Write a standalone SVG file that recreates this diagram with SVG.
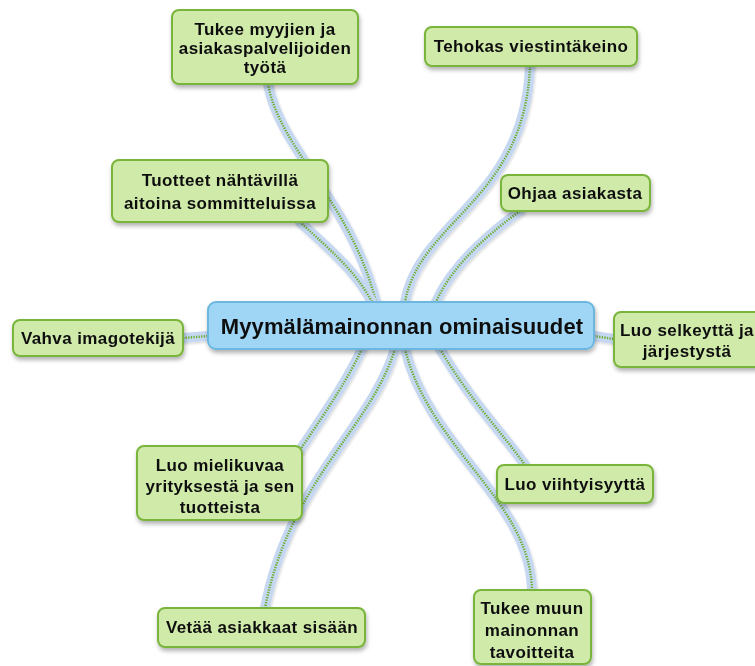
<svg xmlns="http://www.w3.org/2000/svg" width="755" height="666" viewBox="0 0 755 666">
<defs>
<filter id="sh" x="-20%" y="-20%" width="140%" height="150%">
<feDropShadow dx="1" dy="3" stdDeviation="2" flood-color="#000" flood-opacity="0.3"/>
</filter>
<filter id="lsh" x="-20%" y="-20%" width="140%" height="140%">
<feDropShadow dx="1" dy="1.5" stdDeviation="1.2" flood-color="#000" flood-opacity="0.15"/>
</filter>
</defs>
<style>
.bg{fill:#ffffff}
.halo{fill:none;stroke:#c6d8f1;stroke-width:10;stroke-linecap:round}
.dot{fill:none;stroke:#6aad30;stroke-width:2.4;stroke-dasharray:1.3 1.3}
.node rect{fill:#cfeaa9;stroke:#79b53a;stroke-width:2}
.node text{font-family:"Liberation Sans",Arial,sans-serif;font-weight:bold;font-size:17px;letter-spacing:0.4px;fill:#111;text-anchor:middle}
.center rect{fill:#9fd6f6;stroke:#6cb7e0;stroke-width:2}
.center text{font-family:"Liberation Sans",Arial,sans-serif;font-weight:bold;font-size:22px;letter-spacing:0.1px;fill:#111;text-anchor:middle}
</style>
<rect class="bg" x="0" y="0" width="755" height="666"/>
<g id="connectors" filter="url(#lsh)">
<g id="c1"><path class="halo" d="M268 84 C280 150 350 200 376 302"/><path class="dot" d="M268 84 C280 150 350 200 376 302"/></g>
<g id="c2"><path class="halo" d="M300 222 C330 250 355 270 372 302"/><path class="dot" d="M300 222 C330 250 355 270 372 302"/></g>
<g id="c3"><path class="halo" d="M530 66 C525 200 420 220 405 302"/><path class="dot" d="M530 66 C525 200 420 220 405 302"/></g>
<g id="c4"><path class="halo" d="M520 211 C480 240 450 270 436 302"/><path class="dot" d="M520 211 C480 240 450 270 436 302"/></g>
<g id="c5"><path class="halo" d="M183 338 L208 336"/><path class="dot" d="M183 338 L208 336"/></g>
<g id="c6"><path class="halo" d="M594 336 L614 339"/><path class="dot" d="M594 336 L614 339"/></g>
<g id="c7"><path class="halo" d="M362 349 C345 385 320 420 300 450"/><path class="dot" d="M362 349 C345 385 320 420 300 450"/></g>
<g id="c8"><path class="halo" d="M395 349 C370 430 290 480 265 608"/><path class="dot" d="M395 349 C370 430 290 480 265 608"/></g>
<g id="c9"><path class="halo" d="M405 349 C430 450 530 500 532 590"/><path class="dot" d="M405 349 C430 450 530 500 532 590"/></g>
<g id="c10"><path class="halo" d="M440 349 C470 400 500 430 525 465"/><path class="dot" d="M440 349 C470 400 500 430 525 465"/></g>
</g>
<g id="center" class="center" filter="url(#sh)">
<rect x="208" y="302" width="386" height="47" rx="8"/>
<text x="402" y="334">Myymälämainonnan ominaisuudet</text>
</g>
<g id="n1" class="node" filter="url(#sh)">
<rect x="172" y="10" width="186" height="74" rx="7"/>
<text x="265" y="35">Tukee myyjien ja</text>
<text x="265" y="54">asiakaspalvelijoiden</text>
<text x="265" y="73">työtä</text>
</g>
<g id="n2" class="node" filter="url(#sh)">
<rect x="425" y="27" width="212" height="39" rx="7"/>
<text x="531" y="52">Tehokas viestintäkeino</text>
</g>
<g id="n3" class="node" filter="url(#sh)">
<rect x="112" y="160" width="216" height="62" rx="7"/>
<text x="220" y="186">Tuotteet nähtävillä</text>
<text x="220" y="209">aitoina sommitteluissa</text>
</g>
<g id="n4" class="node" filter="url(#sh)">
<rect x="501" y="175" width="149" height="36" rx="7"/>
<text x="575" y="199">Ohjaa asiakasta</text>
</g>
<g id="n5" class="node" filter="url(#sh)">
<rect x="13" y="320" width="170" height="36" rx="7"/>
<text x="98" y="344">Vahva imagotekijä</text>
</g>
<g id="n6" class="node" filter="url(#sh)">
<rect x="614" y="312" width="150" height="55" rx="7"/>
<text x="687" y="336">Luo selkeyttä ja</text>
<text x="687" y="357">järjestystä</text>
</g>
<g id="n7" class="node" filter="url(#sh)">
<rect x="137" y="446" width="165" height="74" rx="7"/>
<text x="220" y="471">Luo mielikuvaa</text>
<text x="220" y="492">yrityksestä ja sen</text>
<text x="220" y="513">tuotteista</text>
</g>
<g id="n8" class="node" filter="url(#sh)">
<rect x="497" y="465" width="156" height="38" rx="7"/>
<text x="575" y="490">Luo viihtyisyyttä</text>
</g>
<g id="n9" class="node" filter="url(#sh)">
<rect x="158" y="608" width="207" height="39" rx="7"/>
<text x="262" y="633">Vetää asiakkaat sisään</text>
</g>
<g id="n10" class="node" filter="url(#sh)">
<rect x="474" y="590" width="117" height="74" rx="7"/>
<text x="532" y="614">Tukee muun</text>
<text x="532" y="636">mainonnan</text>
<text x="532" y="658">tavoitteita</text>
</g>
</svg>
